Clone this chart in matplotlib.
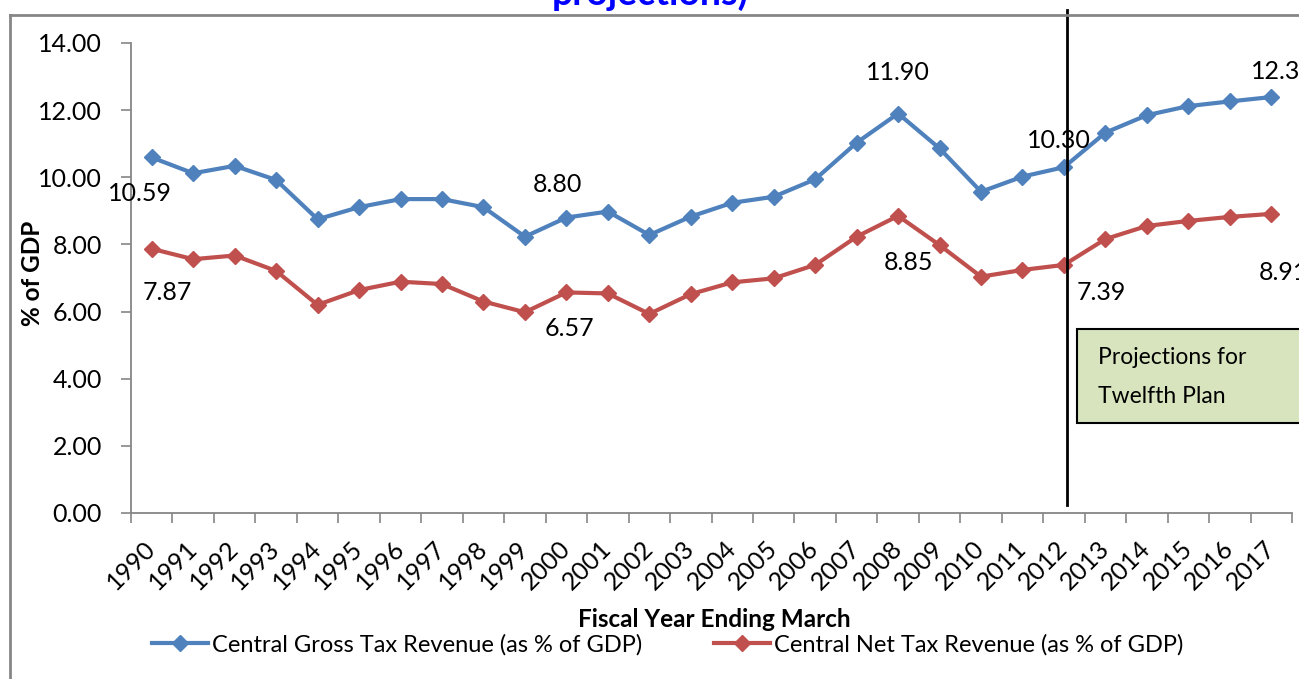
import matplotlib
matplotlib.use("Agg")
import matplotlib.pyplot as plt
from matplotlib.patches import Rectangle
from matplotlib.transforms import blended_transform_factory, ScaledTranslation
from matplotlib.lines import Line2D

plt.rcParams['font.family'] = ['Lato', 'DejaVu Sans']

years = [str(y) for y in range(1990, 2018)]
gross = [10.59, 10.12, 10.34, 9.92, 8.75, 9.11, 9.35, 9.35, 9.11, 8.23,
         8.80, 8.98, 8.28, 8.83, 9.24, 9.42, 9.94, 11.03, 11.90, 10.86,
         9.57, 10.02, 10.30, 11.33, 11.85, 12.12, 12.26, 12.39]
net = [7.87, 7.56, 7.67, 7.21, 6.20, 6.64, 6.89, 6.82, 6.30, 5.98,
       6.57, 6.54, 5.93, 6.52, 6.87, 6.99, 7.39, 8.23, 8.85, 7.98,
       7.04, 7.24, 7.39, 8.16, 8.55, 8.70, 8.82, 8.91]
yticks = [0, 2, 4, 6, 8, 10, 12, 14]
gross_labels = {"1990": (-12, -36), "2000": (-9, 33), "2008": (0, 41),
                "2012": (-5, 27), "2017": (12, 26)}
net_labels = {"1990": (16, -44), "2000": (3, -36), "2008": (10, -47),
              "2012": (37, -28), "2017": (12, -59)}
proj_year = "2012"

blue = "#4F81BD"
red = "#C0504D"
gray = "#868686"
FS_TICK = 18
FS_LAB = 18
FS_LEG = 17
FS_AX = 17.5

fig = plt.figure(figsize=(12.99, 6.79), dpi=100)
W, H = 1299, 679
ax = fig.add_axes([131 / W, 1 - 513 / H, (1292 - 131) / W, (513 - 43) / H])

x = list(range(len(years)))
ax.plot(x, gross, color=blue, lw=3, marker='D', ms=8, mec=blue, mfc=blue,
        label="Central Gross Tax Revenue (as % of GDP)", zorder=3)
ax.plot(x, net, color=red, lw=3, marker='D', ms=8, mec=red, mfc=red,
        label="Central Net Tax Revenue (as % of GDP)", zorder=3)

for yr, off in gross_labels.items():
    i = years.index(yr)
    ax.annotate(f"{gross[i]:.2f}", xy=(i, gross[i]), xytext=off,
                textcoords='offset pixels', ha='center', va='center',
                fontsize=FS_LAB, annotation_clip=False)
for yr, off in net_labels.items():
    i = years.index(yr)
    ax.annotate(f"{net[i]:.2f}", xy=(i, net[i]), xytext=off,
                textcoords='offset pixels', ha='center', va='center',
                fontsize=FS_LAB, annotation_clip=False)

ax.set_xlim(-0.5, len(years) - 0.5)
ax.set_ylim(0, 14)
ax.set_yticks(yticks)
ax.set_yticklabels([f"{v:.2f}" for v in yticks], fontsize=FS_TICK)
ax.set_xticks(x)
ax.set_xticklabels(years, rotation=45, ha='right', va='center',
                   rotation_mode='anchor', fontsize=FS_TICK)
shift = ScaledTranslation(5 / 100, 0, fig.dpi_scale_trans)
for lbl in ax.get_xticklabels():
    lbl.set_transform(lbl.get_transform() + shift)
ax.set_xticks([i - 0.5 for i in range(len(years) + 1)], minor=True)
ax.tick_params(axis='x', which='major', length=0, pad=23)
ax.tick_params(axis='x', which='minor', length=7, color=gray, width=1.2, direction='out')
ax.tick_params(axis='y', length=7, color=gray, width=1.2, pad=14)
for s in ['top', 'right']:
    ax.spines[s].set_visible(False)
for s in ['left', 'bottom']:
    ax.spines[s].set_color(gray)
    ax.spines[s].set_linewidth(1.3)

ax.set_xlabel("Fiscal Year Ending March", fontsize=FS_AX, fontweight='bold')
ax.xaxis.set_label_coords(0.502, -0.202)
ax.set_ylabel("% of GDP", fontsize=FS_AX, fontweight='bold')
ax.yaxis.set_label_coords(-0.075, 0.51)

# vertical projection divider
tr = blended_transform_factory(ax.transData, ax.transAxes)
pi = years.index(proj_year)
ax.add_line(Line2D([pi + 0.07, pi + 0.07], [0.017, 1.07], transform=tr,
                   color='black', lw=2, clip_on=False, zorder=4))

# projection box
box = Rectangle(((1077 - 131) / 1161, (513 - 423) / 470), 0.3, (423 - 329) / 470,
                transform=ax.transAxes, facecolor="#D7E4BD", edgecolor='black',
                lw=1.5, clip_on=False, zorder=5)
ax.add_patch(box)
ax.text((1098 - 131) / 1161, (513 - 377) / 470, "Projections for\nTwelfth Plan",
        transform=ax.transAxes, fontsize=16.5, ha='left', va='center',
        linespacing=2.05, zorder=6)

# legend
leg = fig.legend(loc='center', bbox_to_anchor=(0.514, 1 - 645 / H), ncol=2,
                 frameon=False, fontsize=FS_LEG, handlelength=2.35, handletextpad=0.17,
                 columnspacing=3.05)

# chart frame
fig.add_artist(Line2D([10 / W, 10 / W], [0, 1 - 15 / H], transform=fig.transFigure,
                      color=gray, lw=2))
fig.add_artist(Line2D([10 / W, 1], [1 - 15 / H, 1 - 15 / H], transform=fig.transFigure,
                      color=gray, lw=2))

# truncated title
fig.text(650 / W, 1 - 5 / H, "projections)", color='#0000FF', fontsize=27,
         fontweight='bold', ha='center', va='baseline')

fig.savefig("out.png", dpi=100)
